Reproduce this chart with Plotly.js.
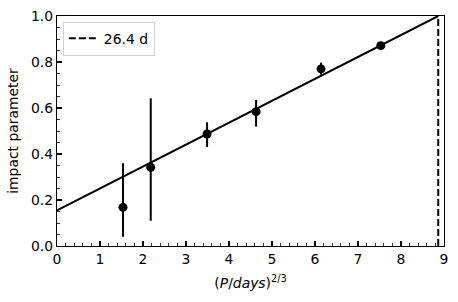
<!DOCTYPE html>
<html>
<head>
<meta charset="utf-8">
<script src="https://cdn.plot.ly/plotly-3.0.1.min.js"></script>
<style>html,body{margin:0;padding:0;background:#fff;}#chart{width:458px;height:302px;}</style>
</head>
<body>
<div id="chart"></div>
<script>
// Data
const periodX = [1.535, 2.18, 3.49, 4.63, 6.14, 7.53];
const impactB = [0.168, 0.342, 0.487, 0.584, 0.770, 0.871];
const errPlus = [0.192, 0.30, 0.051, 0.051, 0.027, 0.010];
const errMinus = [0.128, 0.232, 0.057, 0.065, 0.025, 0.010];
const fitX = [0, 8.866];
const fitY = [0.155, 1.0];
const vlineX = [8.866, 8.866];
const vlineY = [0, 1];
const vlineLabel = '26.4 d';

const font = {family: 'DejaVu Sans', size: 13.9, color: '#000'};

const traces = [
  {x: fitX, y: fitY, mode: 'lines', line: {color: '#000', width: 2}, showlegend: false, hoverinfo: 'skip'},
  {x: periodX, y: impactB, mode: 'markers', marker: {color: '#000', size: 9},
   error_y: {type: 'data', symmetric: false, array: errPlus, arrayminus: errMinus, color: '#000', thickness: 2, width: 0},
   showlegend: false},
  {x: vlineX, y: vlineY, mode: 'lines', name: vlineLabel, line: {color: '#000', width: 2, dash: '7px,3px'}}
];

const axisCommon = {
  showgrid: false, zeroline: false, showline: true, mirror: true, linecolor: '#000', linewidth: 1.1,
  ticks: 'inside', ticklen: 5, tickwidth: 1.1, tickcolor: '#000', tickfont: font
};

const layout = {
  width: 458, height: 302,
  margin: {l: 57, r: 14, t: 16, b: 56},
  paper_bgcolor: '#fff', plot_bgcolor: '#fff',
  font: font,
  xaxis: Object.assign({}, axisCommon, {
    range: [0, 9], dtick: 1, tick0: 0,
    minor: {dtick: 0.2, ticks: 'inside', ticklen: 3, tickwidth: 0.8, tickcolor: '#000'},
    title: {text: '(<i>P</i>/<i>days</i>)<sup>2/3</sup>', font: font, standoff: 12}
  }),
  yaxis: Object.assign({}, axisCommon, {
    range: [0, 1], dtick: 0.2, tick0: 0, tickformat: '.1f',
    minor: {dtick: 0.05, ticks: 'inside', ticklen: 3, tickwidth: 0.8, tickcolor: '#000'},
    title: {text: 'impact parameter', font: font, standoff: 9}
  }),
  legend: {x: 0.015, y: 0.975, xanchor: 'left', yanchor: 'top', bgcolor: '#fff',
    bordercolor: '#d0d0d0', borderwidth: 1, font: font, itemwidth: 30, tracegroupgap: 0},
  showlegend: true
};

Plotly.newPlot('chart', traces, layout, {displayModeBar: false, staticPlot: true});
</script>
</body>
</html>
